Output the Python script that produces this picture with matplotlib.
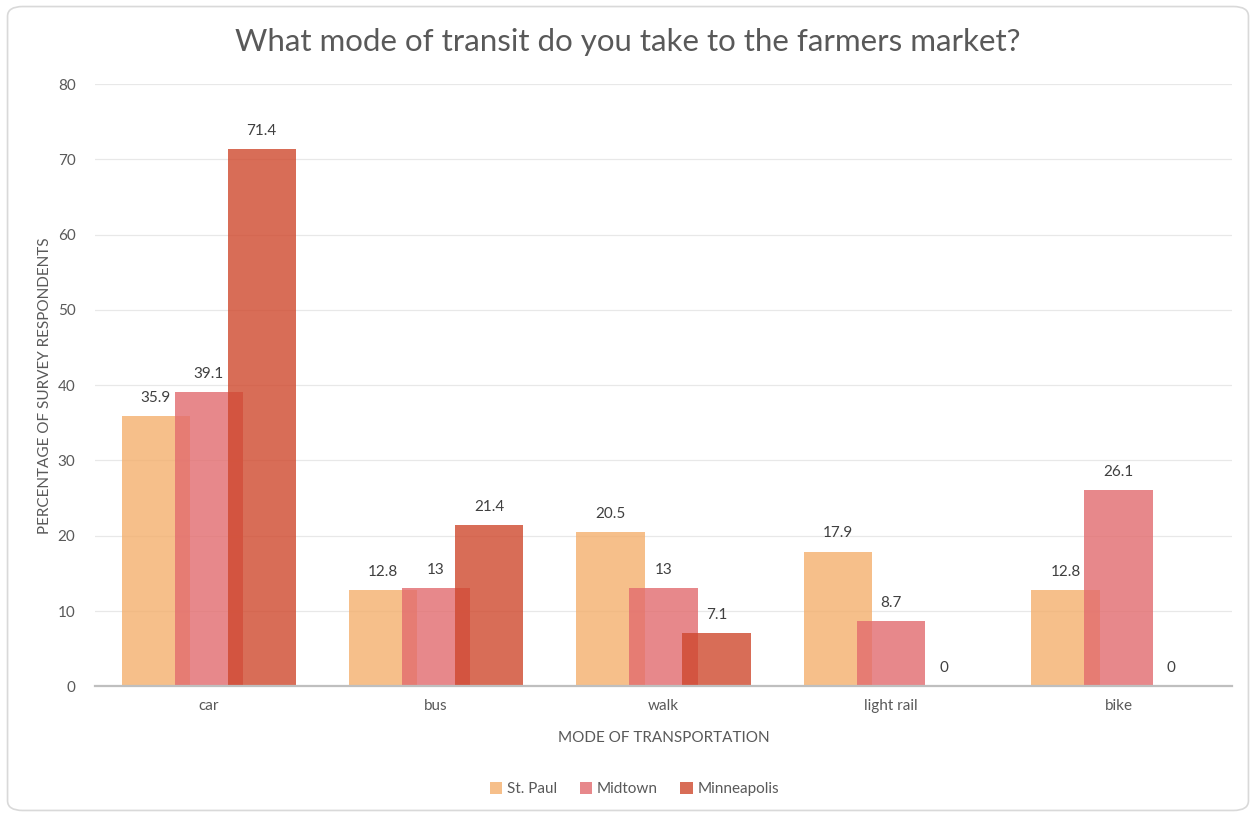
import numpy as np
import matplotlib.pyplot as plt
from matplotlib.patches import FancyBboxPatch

plt.rcParams['font.family'] = ['Lato', 'DejaVu Sans']

modes = ["car", "bus", "walk", "light rail", "bike"]
st_paul = [35.9, 12.8, 20.5, 17.9, 12.8]
midtown = [39.1, 13, 13, 8.7, 26.1]
minneapolis = [71.4, 21.4, 7.1, 0, 0]

names = ["St. Paul", "Midtown", "Minneapolis"]
colors = ["#F4AF6D", "#E26B6E", "#CF482D"]

fig = plt.figure(figsize=(12.56, 8.17), dpi=100)
ax = fig.add_axes([0.0756, 0.160, 0.9054, 0.737])

# rounded frame around the whole chart
frame = FancyBboxPatch((0.006, 0.008), 0.988, 0.984, boxstyle="round,pad=0,rounding_size=0.012",
                       transform=fig.transFigure, fill=False, edgecolor="#D9D9D9", lw=1.2)
fig.patches.append(frame)

x = np.arange(len(modes))
width = 0.30
offset = 0.233
series = [st_paul, midtown, minneapolis]
fs = 11

for i, vals in enumerate(series):
    pos = x + (i - 1) * offset
    ax.bar(pos, vals, width, color=colors[i], alpha=0.8, label=names[i], zorder=2 + i)
    for p, v in zip(pos, vals):
        ax.annotate(f"{v:g}", (p, v), xytext=(0, 13), textcoords="offset points",
                    ha="center", va="center", fontsize=fs, color="#404040", zorder=10)

ax.set_xlim(-0.5, 4.5)
ax.set_ylim(0, 80)
ax.set_yticks(range(0, 81, 10))
ax.set_xticks(x)
ax.set_xticklabels(modes)
ax.tick_params(axis="both", length=0, labelsize=fs, labelcolor="#595959")
ax.tick_params(axis="y", pad=14)
ax.tick_params(axis="x", pad=9)
ax.grid(axis="y", color="#E8E8E8", lw=0.9, zorder=0)
ax.set_axisbelow(True)
for s in ["left", "right", "top"]:
    ax.spines[s].set_visible(False)
ax.spines["bottom"].set_color("#BFBFBF")
ax.spines["bottom"].set_linewidth(1.6)
ax.spines["bottom"].set_zorder(6)

ax.set_xlabel("MODE OF TRANSPORTATION", fontsize=fs, color="#595959", labelpad=13)
ax.set_ylabel("PERCENTAGE OF SURVEY RESPONDENTS", fontsize=fs, color="#595959", labelpad=4)
fig.text(0.5, 0.948, "What mode of transit do you take to the farmers market?",
         ha="center", va="center", fontsize=22.5, color="#595959")

fig.legend(loc="center", bbox_to_anchor=(0.505, 0.034), ncol=3, frameon=False,
           fontsize=fs, handlelength=0.8, handleheight=0.8, handletextpad=0.3,
           columnspacing=1.5, labelcolor="#595959")

fig.savefig("out.png", dpi=100)
